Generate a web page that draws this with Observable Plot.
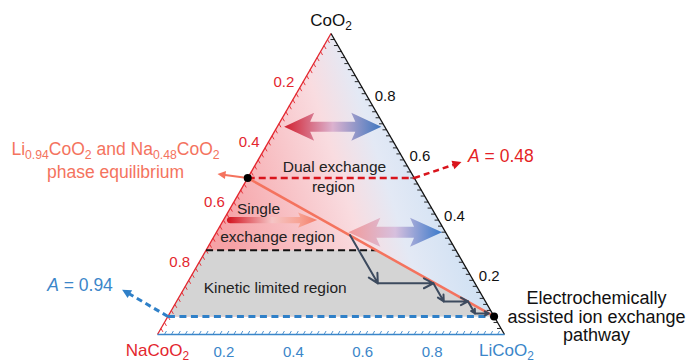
<!DOCTYPE html>
<html><head><meta charset="utf-8">
<script src="https://cdn.jsdelivr.net/npm/d3@7"></script>
<script src="https://cdn.jsdelivr.net/npm/@observablehq/plot@0.6"></script>
<style>html,body{margin:0;padding:0;background:#fff;} #chart svg{display:block}</style>
</head><body><div id="chart"></div>
<script>
// ---------------- data ----------------
const vertexLabels = ["NaCoO_{2}", "LiCoO_{2}", "CoO_{2}"];
const naTickLabels = [0.2, 0.4, 0.6, 0.8];   // left axis (Na content)
const liTickLabels = [0.2, 0.4, 0.6, 0.8];   // bottom axis (Li content)
const coTickLabels = [0.2, 0.4, 0.6, 0.8];   // right axis (CoO2 fraction)
const minorStep = 0.02;
const equilibriumNa = 0.48;   // Na0.48CoO2
const equilibriumLi = 0.94;   // Li0.94CoO2
const kineticA = 0.72;
const pathNa = [0.28, 0.28, 0.12, 0.12, 0.05, 0.05, 0.01];
const pathLi = [0.39, 0.55, 0.71, 0.77, 0.84, 0.88, 0.92];
const dualTopNa = [0.29, 0.01], dualTopLi = [0.02, 0.30];
const dualLowNa = [0.28, 0.01], dualLowLi = [0.38, 0.65];
const singleNa = [0.61, 0.35], singleLi = [0.01, 0.27];
const regionText = ["Dual exchange", "region", "Single", "exchange region", "Kinetic limited region"];
const regionX = [0.510, 0.507, 0.291, 0.346, 0.339];
const regionY = [0.481, 0.424, 0.360, 0.280, 0.133];
const eqText = ["Li_{0.94}CoO_{2} and Na_{0.48}CoO_{2}", "phase equilibrium"];
const eqX = -0.121, eqY = [0.532, 0.465];
const pathText = ["Electrochemically", "assisted ion exchange", "pathway"];
const pathTextX = 1.265, pathTextY = [0.104, 0.049, -0.003];
const aText = ["*A* = 0.48", "*A* = 0.94"];
const aTextX = [0.895, -0.318], aTextY = [0.513, 0.141];
const eqArrowTip = [0.173, 0.462];
const aTopTip = [0.876, 0.496];
const aLowTip = [-0.102, 0.129];

// ---------------- helpers ----------------
const S3 = Math.sqrt(3) / 2;
const K = 347; // px per unit
const tern = (a, l) => { const c = 1 - a - l; return {x: l + 0.5 * c, y: c * S3}; };
const P = (arr) => ({x: arr[0], y: arr[1]});

function blockArrow(p0, p1, o) {
  const dx = p1.x - p0.x, dy = p1.y - p0.y, L = Math.hypot(dx, dy);
  const ux = dx / L, uy = dy / L, nx = -uy, ny = ux;
  const h = o.head / K, hh = o.headHalf / K, sh = o.shaftHalf / K, sw = (o.sweep || 0) / K;
  const at = (s, w) => ({x: p0.x + ux * s + nx * w, y: p0.y + uy * s + ny * w});
  const pts = [];
  if (o.double) {
    pts.push(at(0, 0), at(h, hh), at(h - sw, sh));
  } else {
    for (let i = 0; i <= 8; i++) {
      const phi = -Math.PI / 2 + Math.PI * i / 8;
      pts.push(at(sh - sh * Math.cos(phi), sh * Math.sin(phi)));
    }
  }
  pts.push(at(L - h + sw, sh), at(L - h, hh), at(L, 0), at(L - h, -hh), at(L - h + sw, -sh));
  if (o.double) pts.push(at(h - sw, -sh), at(h, -hh));
  pts.push(pts[0]);
  return pts;
}
function headTri(from, tip, len, half) {
  const dx = tip.x - from.x, dy = tip.y - from.y, L = Math.hypot(dx, dy);
  const ux = dx / L, uy = dy / L, nx = -uy, ny = ux;
  const l = len / K, w = half / K;
  return {
    poly: [{x: tip.x - ux * l + nx * w, y: tip.y - uy * l + ny * w}, tip,
           {x: tip.x - ux * l - nx * w, y: tip.y - uy * l - ny * w}],
    base: {x: tip.x - ux * l * 0.7, y: tip.y - uy * l * 0.7}
  };
}

// geometry from data
const apex = tern(0, 0), vNa = tern(1, 0), vLi = tern(0, 1);
const eqLeft = tern(equilibriumNa, 0);
const eqRight = tern(0, equilibriumLi);
const redRight = tern(0, equilibriumNa);
const blueLeft = tern(equilibriumLi, 0);
const s = (kineticA - equilibriumNa) / (equilibriumLi - equilibriumNa);
const kinRight = tern(equilibriumNa * (1 - s), equilibriumLi * s);
const kinLeft = tern(kineticA, 0);

const bgPoly = [apex, blueLeft, eqRight, apex];
const grayPoly = [kinLeft, kinRight, eqRight, blueLeft, kinLeft];

const dualTop = blockArrow(tern(dualTopNa[0], dualTopLi[0]), tern(dualTopNa[1], dualTopLi[1]),
  {head: 30, headHalf: 14, shaftHalf: 5, sweep: 4, double: true});
const dualLow = blockArrow(tern(dualLowNa[0], dualLowLi[0]), tern(dualLowNa[1], dualLowLi[1]),
  {head: 32, headHalf: 14.5, shaftHalf: 5.5, sweep: 4, double: true});
const single = blockArrow(tern(singleNa[0], singleLi[0]), tern(singleNa[1], singleLi[1]),
  {head: 19, headHalf: 7.5, shaftHalf: 3.2, sweep: 2, double: false});

const pathPts = pathNa.map((a, i) => tern(a, pathLi[i]));
const pathSegs = pathPts.slice(1).map((p, i) => ({x1: pathPts[i].x, y1: pathPts[i].y, x2: p.x, y2: p.y}));

const minor = d3.range(minorStep, 1 - 1e-9, minorStep);
const tl = 4 / K;
const naTicks = minor.map(v => { const p = tern(v, 0); return {x1: p.x, y1: p.y, x2: p.x + 0.5 * tl, y2: p.y - S3 * tl}; });
const coTicks = minor.map(v => { const p = tern(0, 1 - v); return {x1: p.x, y1: p.y, x2: p.x - tl, y2: p.y}; });
const liTicks = minor.map(v => { const p = tern(1 - v, v); return {x1: p.x, y1: p.y, x2: p.x + 0.5 * tl, y2: p.y + S3 * tl}; });
const naLab = naTickLabels.map(v => ({...tern(v, 0), t: v.toFixed(1)}));
const coLab = coTickLabels.map(v => ({...tern(0, 1 - v), t: v.toFixed(1)}));
const liLab = liTickLabels.map(v => ({...tern(1 - v, v), t: v.toFixed(1)}));

const eqHead = headTri(eqLeft, P(eqArrowTip), 8, 4);
const topHead = headTri(redRight, P(aTopTip), 9, 4.5);
const lowHead = headTri(blueLeft, P(aLowTip), 9, 4.5);

const RED = "#e3262e", BLUE = "#3b86c9", SALMON = "#f4735e", NAVY = "#3c4a5e";
const FONT = "'Liberation Sans', Arial, sans-serif";
const poly = (pts, fill) => Plot.line(pts, {x: "x", y: "y", fill, stroke: "none"});
const seg = (a, b) => [{x1: a.x, y1: a.y, x2: b.x, y2: b.y}];

const svg = Plot.plot({
  width: 687, height: 362,
  x: {domain: [0, 1], range: [157, 504], axis: null},
  y: {domain: [0, S3], range: [334, 33], axis: null},
  style: {fontFamily: FONT, background: "#fff", overflow: "visible"},
  marks: [
    poly(bgPoly, "url(#bgGrad)"),
    poly(grayPoly, "#d4d4d4"),
    // triangle edges
    Plot.link(seg(vNa, apex), {x1: "x1", y1: "y1", x2: "x2", y2: "y2", stroke: RED, strokeWidth: 1.3}),
    Plot.link(seg(apex, vLi), {x1: "x1", y1: "y1", x2: "x2", y2: "y2", stroke: "#111", strokeWidth: 1.3}),
    Plot.link(seg(vNa, vLi), {x1: "x1", y1: "y1", x2: "x2", y2: "y2", stroke: BLUE, strokeWidth: 1.5}),
    Plot.link(naTicks, {x1: "x1", y1: "y1", x2: "x2", y2: "y2", stroke: RED, strokeWidth: 0.9}),
    Plot.link(coTicks, {x1: "x1", y1: "y1", x2: "x2", y2: "y2", stroke: "#111", strokeWidth: 0.9}),
    Plot.link(liTicks, {x1: "x1", y1: "y1", x2: "x2", y2: "y2", stroke: BLUE, strokeWidth: 0.9}),
    Plot.text(naLab, {x: "x", y: "y", text: "t", fill: RED, fontSize: 15, textAnchor: "end", dx: -2, dy: -12}),
    Plot.text(coLab, {x: "x", y: "y", text: "t", fill: "#111", fontSize: 15, textAnchor: "start", dx: 9, dy: 2}),
    Plot.text(liLab, {x: "x", y: "y", text: "t", fill: BLUE, fontSize: 15, textAnchor: "middle", dx: -3, dy: 18}),
    // block arrows
    poly(dualTop, "url(#gDualTop)"),
    poly(dualLow, "url(#gDualLow)"),
    poly(single, "url(#gSingle)"),
    // dashed levels
    Plot.link(seg(kinLeft, kinRight), {x1: "x1", y1: "y1", x2: "x2", y2: "y2", stroke: "#111", strokeWidth: 2, strokeDasharray: "7,4"}),
    Plot.link(seg(eqLeft, redRight), {x1: "x1", y1: "y1", x2: "x2", y2: "y2", stroke: "#d9141c", strokeWidth: 2.5, strokeDasharray: "7,4"}),
    Plot.link(seg(blueLeft, eqRight), {x1: "x1", y1: "y1", x2: "x2", y2: "y2", stroke: "#2f80c8", strokeWidth: 3, strokeDasharray: "7,4.5"}),
    // tie line
    Plot.link(seg(eqLeft, eqRight), {x1: "x1", y1: "y1", x2: "x2", y2: "y2", stroke: SALMON, strokeWidth: 2.5}),
    // staircase pathway
    Plot.arrow(pathSegs, {x1: "x1", y1: "y1", x2: "x2", y2: "y2", stroke: NAVY, strokeWidth: 2, headLength: 8, headAngle: 55}),
    // annotation arrows
    Plot.link(seg(eqLeft, eqHead.base), {x1: "x1", y1: "y1", x2: "x2", y2: "y2", stroke: SALMON, strokeWidth: 2}),
    poly(eqHead.poly, SALMON),
    Plot.link(seg(redRight, topHead.base), {x1: "x1", y1: "y1", x2: "x2", y2: "y2", stroke: "#d9141c", strokeWidth: 2.5, strokeDasharray: "6,4"}),
    poly(topHead.poly, "#d9141c"),
    Plot.link(seg(blueLeft, lowHead.base), {x1: "x1", y1: "y1", x2: "x2", y2: "y2", stroke: "#2f80c8", strokeWidth: 3, strokeDasharray: "6,4"}),
    poly(lowHead.poly, "#2f80c8"),
    // dots
    Plot.dot([eqLeft, eqRight], {x: "x", y: "y", r: 4, fill: "#000"}),
    // vertex labels
    Plot.text([vNa], {x: "x", y: "y", text: [vertexLabels[0]], fill: RED, fontSize: 17, dy: 16}),
    Plot.text([vLi], {x: "x", y: "y", text: [vertexLabels[1]], fill: BLUE, fontSize: 17, dx: 2, dy: 16}),
    Plot.text([apex], {x: "x", y: "y", text: [vertexLabels[2]], fill: "#111", fontSize: 17, dy: -13}),
    // region texts
    Plot.text(regionText, {x: (d, i) => regionX[i], y: (d, i) => regionY[i], text: d => d, fill: "#222", fontSize: 15.5}),
    Plot.text(eqText, {x: () => eqX, y: (d, i) => eqY[i], text: d => d, fill: SALMON, fontSize: 17.5}),
    Plot.text(pathText, {x: () => pathTextX, y: (d, i) => pathTextY[i], text: d => d, fill: "#111", fontSize: 18}),
    Plot.text([aText[0]], {x: () => aTextX[0], y: () => aTextY[0], text: d => d, fill: "#e41f26", fontSize: 17.5, textAnchor: "start"}),
    Plot.text([aText[1]], {x: () => aTextX[1], y: () => aTextY[1], text: d => d, fill: BLUE, fontSize: 17.5, textAnchor: "start"})
  ]
});

// gradients
const defs = document.createElementNS("http://www.w3.org/2000/svg", "defs");
defs.innerHTML = `
<linearGradient id="bgGrad" gradientUnits="userSpaceOnUse" x1="215" y1="190" x2="470" y2="110">
  <stop offset="0" stop-color="#f6a2a6"/>
  <stop offset="0.46" stop-color="#f9dce0"/>
  <stop offset="0.62" stop-color="#e3e9f5"/>
  <stop offset="1" stop-color="#c2dbf2"/>
</linearGradient>
<linearGradient id="gDualTop" x1="0" y1="0" x2="1" y2="0">
  <stop offset="0" stop-color="#d2202e"/>
  <stop offset="0.5" stop-color="#dcb2cf"/>
  <stop offset="1" stop-color="#3e77c0"/>
</linearGradient>
<linearGradient id="gDualLow" x1="0" y1="0" x2="1" y2="0">
  <stop offset="0" stop-color="#f29a9a"/>
  <stop offset="0.5" stop-color="#d7c0de"/>
  <stop offset="1" stop-color="#3a7acb"/>
</linearGradient>
<linearGradient id="gSingle" x1="0" y1="0" x2="1" y2="0">
  <stop offset="0" stop-color="#d3101c"/>
  <stop offset="0.5" stop-color="#f5c5c6"/>
  <stop offset="0.8" stop-color="#f7a394"/>
  <stop offset="1" stop-color="#f47c68"/>
</linearGradient>`;
svg.insertBefore(defs, svg.firstChild);

// subscripts / italics
function richify(root) {
  root.querySelectorAll("text").forEach(t => {
    const str = t.textContent;
    if (!/_\{|\*/.test(str)) return;
    t.textContent = "";
    const re = /_\{([^}]*)\}|\*([^*]*)\*|([^_*]+)/g;
    let m, lowered = false;
    while ((m = re.exec(str))) {
      const ts = document.createElementNS("http://www.w3.org/2000/svg", "tspan");
      if (m[1] !== undefined) {
        ts.textContent = m[1];
        ts.setAttribute("font-size", "70%");
        ts.setAttribute("dy", "0.3em");
        lowered = true;
      } else {
        ts.textContent = m[2] !== undefined ? m[2] : m[3];
        if (m[2] !== undefined) ts.setAttribute("font-style", "italic");
        if (lowered) { ts.setAttribute("dy", "-0.21em"); lowered = false; }
      }
      t.appendChild(ts);
    }
  });
}
richify(svg);
document.getElementById("chart").appendChild(svg);
</script>
</body></html>
